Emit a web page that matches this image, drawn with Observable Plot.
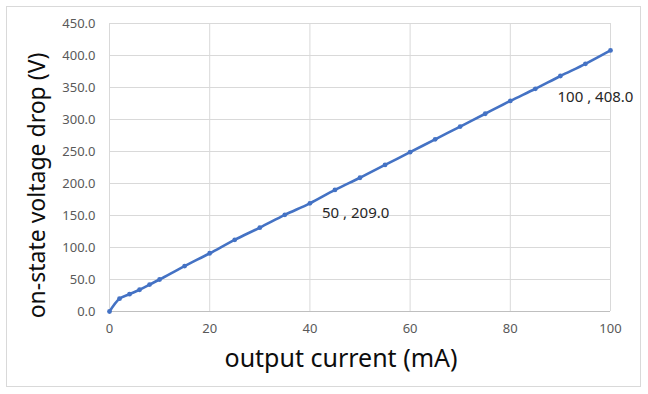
<!DOCTYPE html>
<html>
<head>
<meta charset="utf-8">
<script src="https://cdn.jsdelivr.net/npm/d3@7"></script>
<script src="https://cdn.jsdelivr.net/npm/@observablehq/plot@0.6"></script>
<style>
  html, body { margin: 0; padding: 0; background: #fff; }
  #wrap { position: relative; width: 648px; height: 394px; }
  #border { position: absolute; left: 6px; top: 6px; width: 635px; height: 381px; border: 1px solid #d9d9d9; box-sizing: border-box; pointer-events: none; }
</style>
</head>
<body>
<div id="wrap"><div id="border"></div><div id="chart"></div></div>
<script>
const current = [0, 2, 4, 6, 8, 10, 15, 20, 25, 30, 35, 40, 45, 50, 55, 60, 65, 70, 75, 80, 85, 90, 95, 100];
const voltage = [0, 20, 27, 34, 42, 50, 71, 91, 112, 131, 151, 169, 190, 209, 229, 249, 269, 289, 309, 329, 348, 368, 387, 408];
const xTicks = [0, 20, 40, 60, 80, 100];
const yTicks = [0, 50, 100, 150, 200, 250, 300, 350, 400, 450];
const annotX = [50, 100];
const annotY = [209, 408];
const annotText = ["50 , 209.0", "100 , 408.0"];
const xLabel = "output current (mA)";
const yLabel = "on-state voltage drop (V)";

const data = current.map((c, i) => ({c, v: voltage[i]}));
const annots = annotX.map((x, i) => ({x, y: annotY[i], t: annotText[i]}));

const font = "'Noto Sans', 'DejaVu Sans', sans-serif";
const chart = Plot.plot({
  width: 648,
  height: 394,
  marginLeft: 109,
  marginRight: 38,
  marginTop: 23,
  marginBottom: 83,
  style: {fontFamily: font, background: "transparent"},
  x: {domain: [0, 100]},
  y: {domain: [0, 450]},
  marks: [
    Plot.gridX(xTicks, {stroke: "#d9d9d9", strokeOpacity: 1}),
    Plot.gridY(yTicks, {stroke: "#d9d9d9", strokeOpacity: 1}),
    Plot.ruleY([0], {stroke: "#bfbfbf"}),
    Plot.axisX(xTicks, {tickSize: 0, tickPadding: 12, fontSize: 13, fill: "#595959", label: null, tickFormat: d3.format("d")}),
    Plot.axisY(yTicks, {tickSize: 0, tickPadding: 14, fontSize: 13, fill: "#595959", label: null, tickFormat: d3.format(".1f")}),
    Plot.line(data, {x: "c", y: "v", stroke: "#4472c4", strokeWidth: 2.6, curve: "catmull-rom"}),
    Plot.dot(data, {x: "c", y: "v", r: 2.4, fill: "#4472c4"}),
    Plot.text(annots.slice(0, 1), {x: "x", y: "y", text: "t", textAnchor: "start", dx: -38, dy: 35, fontSize: 15, fill: "#262626"}),
    Plot.text(annots.slice(1), {x: "x", y: "y", text: "t", textAnchor: "start", dx: -53, dy: 47, fontSize: 15, fill: "#262626"}),
    Plot.text([xLabel], {frameAnchor: "bottom", textAnchor: "middle", dx: -19, dy: 55, fontSize: 25, fill: "#0d0d0d"}),
    Plot.text([yLabel], {frameAnchor: "left", textAnchor: "middle", rotate: -90, dx: -72, dy: 18, fontSize: 23, fill: "#0d0d0d"})
  ]
});
document.getElementById("chart").appendChild(chart);
</script>
</body>
</html>
